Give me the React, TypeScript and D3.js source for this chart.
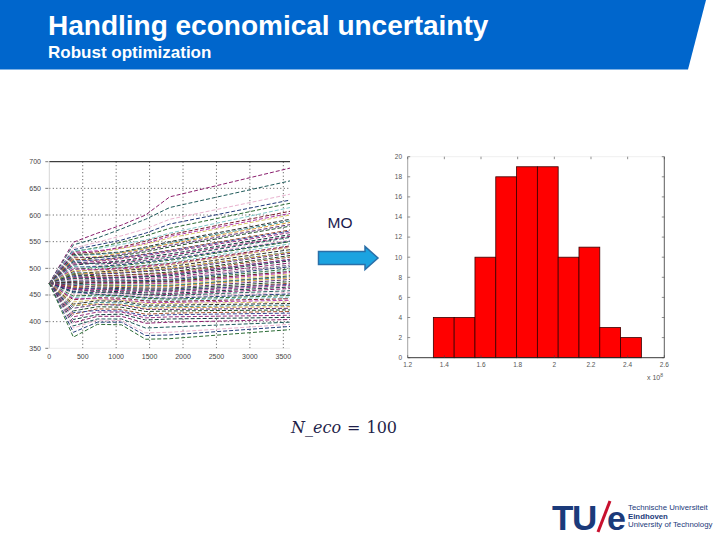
import React from 'react';
import * as d3 from 'd3';

// ---- line chart data (objective value per simulated time step) ----
const timeSteps = [0, 360, 720, 1080, 1440, 1800, 3600];
const lineTicksX = [0, 500, 1000, 1500, 2000, 2500, 3000, 3500];
const lineTicksY = [350, 400, 450, 500, 550, 600, 650, 700];

const lineValues: number[][] = [
  [472, 549, 566, 581, 600, 634, 688],
  [472, 544, 557, 574, 592, 614, 664],
  [472, 538, 549, 561, 574, 592, 639],
  [472, 535, 544, 553, 566, 583, 628],
  [472, 531, 539, 549, 561, 575, 622],
  [472, 533, 537, 545, 553, 566, 614],
  [472, 528, 531, 540, 551, 563, 607],
  [472, 530, 533, 538, 547, 560, 603],
  [472, 523, 529, 537, 545, 557, 600],
  [472, 526, 527, 531, 540, 550, 592],
  [472, 524, 526, 530, 538, 548, 589],
  [472, 519, 522, 529, 537, 546, 586],
  [472, 521, 520, 526, 534, 543, 582],
  [472, 515, 520, 524, 531, 540, 579],
  [472, 517, 515, 520, 527, 534, 572],
  [472, 513, 516, 521, 526, 533, 570],
  [472, 510, 513, 518, 524, 531, 567],
  [472, 506, 510, 514, 521, 527, 563],
  [472, 508, 510, 512, 518, 524, 560],
  [472, 512, 508, 510, 515, 521, 558],
  [472, 501, 505, 509, 514, 519, 553],
  [472, 503, 503, 507, 512, 517, 551],
  [472, 498, 502, 505, 510, 515, 550],
  [472, 504, 501, 502, 506, 511, 546],
  [472, 494, 498, 501, 505, 509, 542],
  [472, 499, 497, 499, 503, 507, 540],
  [472, 496, 495, 497, 501, 506, 539],
  [472, 490, 493, 496, 499, 503, 535],
  [472, 492, 490, 492, 495, 499, 531],
  [472, 489, 491, 493, 496, 500, 530],
  [472, 486, 489, 491, 494, 497, 528],
  [472, 488, 486, 487, 490, 493, 524],
  [472, 483, 485, 487, 489, 491, 521],
  [472, 485, 482, 483, 485, 488, 517],
  [472, 482, 483, 484, 486, 489, 516],
  [472, 480, 481, 482, 484, 486, 514],
  [472, 478, 479, 479, 481, 483, 510],
  [472, 481, 477, 477, 478, 480, 506],
  [472, 479, 478, 478, 479, 481, 505],
  [472, 476, 476, 476, 477, 478, 503],
  [472, 474, 474, 474, 475, 476, 499],
  [472, 477, 472, 471, 472, 473, 496],
  [472, 475, 473, 473, 474, 475, 494],
  [472, 471, 471, 471, 471, 472, 492],
  [472, 469, 470, 469, 469, 470, 489],
  [472, 473, 468, 467, 467, 467, 486],
  [472, 470, 469, 468, 468, 468, 484],
  [472, 466, 467, 466, 465, 466, 482],
  [472, 468, 465, 464, 463, 463, 479],
  [472, 463, 463, 462, 461, 461, 475],
  [472, 465, 461, 459, 459, 458, 472],
  [472, 462, 462, 460, 459, 459, 470],
  [472, 460, 460, 458, 456, 456, 468],
  [472, 457, 458, 456, 454, 453, 465],
  [472, 461, 456, 454, 451, 451, 462],
  [472, 454, 455, 453, 450, 449, 458],
  [472, 451, 453, 451, 447, 446, 455],
  [472, 456, 451, 449, 445, 444, 452],
  [472, 448, 450, 448, 444, 442, 449],
  [472, 445, 448, 446, 441, 440, 446],
  [472, 441, 445, 444, 439, 438, 443],
  [472, 443, 443, 441, 436, 436, 440],
  [472, 437, 441, 440, 434, 434, 437],
  [472, 433, 439, 438, 431, 431, 434],
  [472, 429, 436, 435, 428, 428, 431],
  [472, 431, 433, 432, 425, 426, 428],
  [472, 425, 432, 431, 423, 423, 425],
  [472, 420, 428, 427, 419, 420, 422],
  [472, 414, 424, 423, 414, 416, 419],
  [472, 417, 421, 420, 411, 413, 416],
  [472, 409, 418, 418, 407, 409, 412],
  [472, 404, 413, 414, 403, 405, 408],
  [472, 398, 410, 410, 397, 399, 404],
  [472, 392, 405, 405, 388, 390, 399],
  [472, 388, 403, 402, 379, 380, 395],
  [472, 380, 399, 399, 374, 375, 391],
  [472, 371, 395, 394, 367, 368, 385],
];

const lineColors = [
  '#8a1f6e', '#1f5a5a', '#e9b3cf', '#203a78', '#2a6b34', '#7fc9c9',
  '#7a2030', '#b23aa6', '#d9c46a', '#2e2e2e', '#3f8f8f', '#d99a3a',
  '#5a2a70', '#1d4d2a', '#a05030', '#3a4a98', '#9a3080', '#0f3f3f',
];

// ---- histogram data (MO result, x 10^8) ----
const binEdges = [1.34, 1.4535, 1.567, 1.6805, 1.794, 1.9075, 2.021, 2.1345, 2.248, 2.3615, 2.475];
const binCounts = [4, 4, 10, 18, 19, 19, 10, 11, 3, 2];
const histTicksX = [1.2, 1.4, 1.6, 1.8, 2, 2.2, 2.4, 2.6];
const histTicksY = [0, 2, 4, 6, 8, 10, 12, 14, 16, 18, 20];

const FONT = 'Liberation Sans, Arial, sans-serif';

function LinePanel() {
  const x = d3.scaleLinear().domain([0, 3600]).range([49.3, 290]);
  const y = d3.scaleLinear().domain([350, 700]).range([348.3, 161.7]);
  const line = d3.line<number>()
    .x((_, i) => x(timeSteps[i]))
    .y((d) => y(d));

  return (
    <g>
      {/* dotted grid */}
      {lineTicksX.slice(1).map((t) => (
        <line key={'gx' + t} x1={x(t)} x2={x(t)} y1={y(700)} y2={y(350)}
          stroke="#222" strokeWidth={0.8} strokeDasharray="1 2.5" />
      ))}
      {lineTicksY.slice(1, -1).map((t) => (
        <line key={'gy' + t} x1={x(0)} x2={x(3600)} y1={y(t)} y2={y(t)}
          stroke="#222" strokeWidth={0.8} strokeDasharray="1 2.5" />
      ))}
      {/* frame */}
      <line x1={x(0)} x2={x(3600)} y1={y(700)} y2={y(700)} stroke="#111" strokeWidth={1} />
      <line x1={x(0)} x2={x(0)} y1={y(700)} y2={y(350)} stroke="#bbb" strokeWidth={0.6} />
      <line x1={x(0)} x2={x(3600)} y1={y(350)} y2={y(350)} stroke="#ddd" strokeWidth={0.6} />
      {lineValues.map((vals, i) => (
        <path key={i} d={line(vals) || ''} fill="none"
          stroke={lineColors[i % lineColors.length]} strokeWidth={1}
          strokeDasharray="4 2" />
      ))}
      {lineTicksY.map((t) => (
        <g key={'ty' + t}>
          <line x1={x(0) - 4} x2={x(0) - 1} y1={y(t)} y2={y(t)} stroke="#444" strokeWidth={0.7} />
          <text x={41} y={y(t) + 2.5} textAnchor="end" fontSize={7} fill="#444" fontFamily={FONT}>{t}</text>
        </g>
      ))}
      {lineTicksX.map((t) => (
        <text key={'tx' + t} x={x(t)} y={359} textAnchor="middle" fontSize={7} fill="#444" fontFamily={FONT}>{t}</text>
      ))}
    </g>
  );
}

function HistPanel() {
  const x = d3.scaleLinear().domain([1.2, 2.6]).range([407.7, 664.3]);
  const y = d3.scaleLinear().domain([0, 20]).range([357.7, 156.7]);
  const fmt = d3.format('~g');

  return (
    <g>
      {binCounts.map((c, i) => (
        <rect key={i} x={x(binEdges[i])} y={y(c)}
          width={x(binEdges[i + 1]) - x(binEdges[i])} height={y(0) - y(c)}
          fill="#ff0000" stroke="#3a0000" strokeWidth={0.8} />
      ))}
      {/* box */}
      <line x1={x(1.2)} x2={x(2.6)} y1={y(0)} y2={y(0)} stroke="#222" strokeWidth={0.9} />
      <line x1={x(2.6)} x2={x(2.6)} y1={y(0)} y2={y(20)} stroke="#333" strokeWidth={0.8} />
      <line x1={x(1.2)} x2={x(1.2)} y1={y(0)} y2={y(20)} stroke="#666" strokeWidth={0.6} />
      <line x1={x(1.2)} x2={x(2.6)} y1={y(20)} y2={y(20)} stroke="#e4e4e4" strokeWidth={0.6} />
      {histTicksY.map((t) => (
        <g key={'hy' + t}>
          <line x1={x(1.2)} x2={x(1.2) + 2.5} y1={y(t)} y2={y(t)} stroke="#444" strokeWidth={0.6} />
          <line x1={x(2.6) - 2.5} x2={x(2.6)} y1={y(t)} y2={y(t)} stroke="#444" strokeWidth={0.6} />
          <text x={402} y={y(t) + 2.3} textAnchor="end" fontSize={6.5} fill="#555" fontFamily={FONT}>{t}</text>
        </g>
      ))}
      {histTicksX.map((t) => (
        <g key={'hx' + t}>
          <line x1={x(t)} x2={x(t)} y1={y(0)} y2={y(0) - 2.5} stroke="#444" strokeWidth={0.6} />
          <line x1={x(t)} x2={x(t)} y1={y(20)} y2={y(20) + 2.5} stroke="#444" strokeWidth={0.6} />
          <text x={x(t)} y={367} textAnchor="middle" fontSize={6.5} fill="#555" fontFamily={FONT}>{fmt(t)}</text>
        </g>
      ))}
      <text x={647} y={380} fontSize={7} fill="#555" fontFamily={FONT}>
        x 10<tspan dy={-3} fontSize={5}>8</tspan>
      </text>
    </g>
  );
}

export default function App() {
  return (
    <div style={{ position: 'absolute', left: 0, top: 0 }}>
      <style>{'body{margin:0}'}</style>
      <svg width={720} height={540} style={{ display: 'block', background: '#fff' }}>
        {/* header band */}
        <polygon points="0,0 706,0 688,69.5 0,69.5" fill="#0066cc" />
        <text x={48} y={35} fontSize={28} fontWeight="bold" fill="#fff" fontFamily={FONT}>
          Handling economical uncertainty
        </text>
        <text x={48} y={58} fontSize={17} fontWeight="bold" fill="#fff" fontFamily={FONT}>
          Robust optimization
        </text>

        <LinePanel />
        <HistPanel />

        {/* MO arrow */}
        <text x={327.5} y={227.5} fontSize={15.5} fill="#1a1a4e" fontFamily={FONT}>MO</text>
        <polygon points="318.5,251.5 365,251.5 365,246.5 378,258 365,269.5 365,264.5 318.5,264.5"
          fill="#1ba3e0" stroke="#2a6fa8" strokeWidth={1.5} strokeLinejoin="miter" />

        {/* formula */}
        <text x={291} y={433} fontSize={16} fill="#1f1f4a" fontFamily="DejaVu Serif, serif">
          <tspan fontStyle="italic">N_eco</tspan>
          <tspan dx={6}>=</tspan>
          <tspan dx={6}>100</tspan>
        </text>

        {/* TU/e logo */}
        <text x={552} y={530} fontSize={35} fontWeight="bold" fill="#1b3a7a" fontFamily={FONT} letterSpacing={-1.5}>TU</text>
        <line x1={598} y1={532} x2={610} y2={501} stroke="#c8102e" strokeWidth={3} />
        <text x={607} y={530} fontSize={34} fontWeight="bold" fill="#1b3a7a" fontFamily={FONT}>e</text>
        <text x={628} y={510} fontSize={7.8} fill="#1b3a7a" fontFamily={FONT}>Technische Universiteit</text>
        <text x={628} y={518.5} fontSize={7.8} fontWeight="bold" fill="#1b3a7a" fontFamily={FONT}>Eindhoven</text>
        <text x={628} y={527} fontSize={7.8} fill="#1b3a7a" fontFamily={FONT}>University of Technology</text>
      </svg>
    </div>
  );
}
